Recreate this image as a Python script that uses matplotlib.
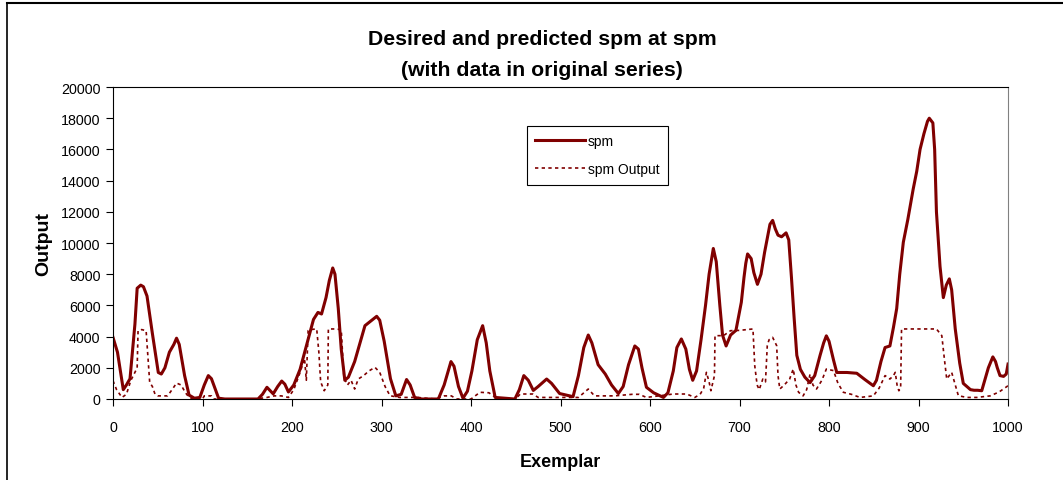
import matplotlib
matplotlib.use('Agg')
import matplotlib.pyplot as plt
from matplotlib.lines import Line2D

# desired spm, (exemplar, value)
spm_points = [
    (0, 3950), (5, 3000), (11.5, 600), (15, 900), (19, 1300), (24.5, 4800), (27, 7100),
    (31, 7300), (34, 7200), (38, 6600), (44, 4200), (50.6, 1700), (54, 1600), (58, 2000),
    (63, 3000), (68, 3500), (71, 3900), (74, 3500), (80, 1500), (85, 250), (91, 50),
    (97, 100), (102, 900), (106.5, 1500), (110, 1300), (118, 50), (125, 0), (162, 0),
    (167, 300), (172, 750), (179, 330), (184, 800), (188.5, 1150), (192, 950), (196, 450),
    (202, 900), (209, 1900), (216, 3400), (224, 5100), (229, 5550), (233, 5450),
    (238, 6500), (241.7, 7600), (245.5, 8400), (248, 8000), (251.7, 5800), (255, 3200),
    (259, 1200), (263, 1400), (270, 2400), (276, 3600), (281.5, 4700), (288, 5000),
    (294.6, 5300), (298, 5050), (303, 3700), (310, 1300), (316, 200), (322, 300),
    (328, 1250), (332, 900), (337, 100), (345, 0), (363.5, 0), (370, 900), (377.6, 2400),
    (381, 2100), (386, 800), (391, 50), (396, 500), (401, 1800), (407, 3800), (413, 4700),
    (417, 3600), (421, 1800), (427, 100), (449, 0), (454, 600), (459, 1500), (464, 1200),
    (469.6, 550), (475, 800), (484.5, 1280), (490, 1000), (499, 350), (514, 150),
    (520, 1500), (526, 3300), (531, 4100), (535, 3600), (542, 2200), (550, 1600),
    (557, 900), (564.6, 350), (570, 800), (576, 2200), (583, 3400), (587, 3200),
    (591, 2000), (596, 750), (604, 400), (615, 100), (620, 400), (626, 1800), (630, 3300),
    (635, 3850), (640, 3200), (644, 1900), (647.7, 1200), (652, 1800), (657, 3800),
    (662, 6000), (666, 8000), (670.7, 9650), (674, 8800), (678, 6000), (681, 4100),
    (685, 3400), (690, 4100), (696, 4400), (702, 6200), (705, 7800), (707, 8700),
    (709, 9300), (713, 9000), (716, 8100), (720, 7350), (724, 8000), (728, 9400),
    (734, 11200), (737, 11450), (740, 10900), (743, 10500), (747, 10400), (752, 10650),
    (755, 10200), (758, 7800), (761, 5200), (764, 2800), (768, 1900), (773, 1400),
    (778.8, 1050), (784, 1500), (790, 2800), (794, 3600), (797, 4050), (800, 3700),
    (805, 2500), (808.6, 1700), (820, 1700), (831, 1650), (840, 1250), (849.5, 850),
    (853, 1200), (858, 2400), (862.6, 3300), (868, 3400), (872, 4600), (875.6, 5800),
    (879, 8000), (883, 10050), (888, 11500), (894, 13450), (898, 14600), (901.7, 16000),
    (906, 17000), (910, 17800), (912, 18000), (916, 17700), (918, 16000), (920, 12000),
    (924, 8500), (927.7, 6500), (931, 7300), (934.4, 7700), (937, 7000), (941, 4500),
    (946, 2300), (950, 1000), (954, 800), (958, 600), (962, 560), (966, 560),
    (970.6, 530), (974, 1200), (978, 2000), (983, 2700), (986, 2400), (988, 2000),
    (991, 1500), (995, 1450), (998, 1600), (1000, 2240),
]

# predicted spm Output
output_points = [
    (0, 1170), (4, 600), (10, 100), (15, 300), (20, 1200), (22.7, 1500), (27, 2000),
    (28, 4380), (32, 4450), (37, 4380), (40, 1900), (41, 1070), (44, 800), (47, 300),
    (50, 200), (61, 200), (66, 600), (71, 1020), (76, 900), (81, 400), (85, 100), (90, 0),
    (100, 0), (102, 200), (110, 200), (112, 0), (160, 0), (172, 100), (180, 200),
    (188, 200), (196, 100), (202, 600), (209, 1700), (214, 2600), (216, 1200), (218, 4380),
    (220, 4450), (227.6, 4490), (230, 3000), (232, 1100), (236, 530), (240, 900),
    (240.6, 4490), (248, 4490), (255, 4450), (258, 1370), (262, 900), (266, 1200),
    (270, 640), (274, 1280), (280, 1500), (286, 1800), (292.7, 2030), (298, 1710),
    (304, 800), (309.5, 210), (320, 100), (340, 100), (360, 0), (370, 200), (378, 200),
    (384, 0), (400, 0), (410, 430), (420, 400), (430, 0), (450, 0), (455, 320), (469, 320),
    (475, 100), (520, 100), (531, 640), (538, 200), (560, 200), (580, 300), (588, 300),
    (596, 100), (626, 320), (641, 320), (650, 100), (656, 300), (660, 700), (663, 1710),
    (666, 1100), (668, 530), (672, 1500), (672.6, 4060), (682, 4060), (690, 4380),
    (700, 4400), (715, 4490), (717, 2140), (719, 1200), (720, 850), (722, 600),
    (726, 1280), (729, 1100), (731, 3420), (733, 3800), (737, 3950), (741.5, 3420),
    (743, 1500), (745, 640), (750, 900), (756, 1280), (760, 1920), (763, 900), (766, 430),
    (771, 200), (775, 600), (778.8, 1600), (782, 900), (786, 640), (792, 1200),
    (797, 1920), (805, 1820), (810, 1000), (816, 430), (825, 300), (834.6, 100),
    (849.5, 200), (856, 700), (862.6, 1500), (868, 1280), (872, 1500), (874, 1710),
    (876, 900), (878, 530), (880, 700), (881, 4490), (900, 4490), (920, 4490), (926, 4060),
    (929, 2500), (931.5, 1280), (937, 1710), (940, 1100), (944.5, 210), (954, 100),
    (965, 100), (980, 200), (990, 450), (1000, 850),
]

spm_x, spm_y = zip(*spm_points)
out_x, out_y = zip(*output_points)

x_ticks = list(range(0, 1001, 100))
y_ticks = list(range(0, 20001, 2000))

plt.rcParams['font.family'] = ['Liberation Sans', 'DejaVu Sans']
red = '#800000'

fig = plt.figure(figsize=(10.63, 4.81), dpi=100)
ax = fig.add_axes([0.1063, 0.1684, 0.8420, 0.6486])

ax.plot(spm_x, spm_y, color=red, lw=2.2, solid_joinstyle='round', label='spm')
ax.plot(out_x, out_y, color=red, lw=1.2, ls=(0, (2, 2)), label='spm Output')

ax.set_xlim(0, 1000)
ax.set_ylim(0, 20000)
ax.set_xticks(x_ticks)
ax.set_yticks(y_ticks)
ax.tick_params(direction='out', length=5, width=0.8, labelsize=10.3)
ax.tick_params(axis='x', pad=10)
ax.tick_params(axis='y', pad=4)
ax.spines['right'].set_color('#808080')

ax.set_xlabel('Exemplar', fontsize=13, fontweight='bold', labelpad=14)
ax.set_ylabel('Output', fontsize=14, fontweight='bold', labelpad=6)

fig.text(0.510, 0.917, 'Desired and predicted spm at spm', ha='center', va='center',
         fontsize=15.3, fontweight='bold')
fig.text(0.510, 0.853, '(with data in original series)', ha='center', va='center',
         fontsize=15.3, fontweight='bold')

handles = [Line2D([], [], color=red, lw=2.2),
           Line2D([], [], color=red, lw=1.2, ls=(0, (2, 2)))]
leg = ax.legend(handles, ['spm', 'spm Output'], loc='upper left',
                bbox_to_anchor=(0.4626, 0.875), borderaxespad=0, fontsize=10,
                fancybox=False, framealpha=1, edgecolor='black', handlelength=3.6,
                handletextpad=0.2, borderpad=0.6, labelspacing=1.0)
leg.get_frame().set_linewidth(0.8)

# outer chart frame (left and top edges)
fig.add_artist(Line2D([7 / 1063, 7 / 1063], [0, 1 - 4 / 481], color='black', lw=1.2,
                      transform=fig.transFigure))
fig.add_artist(Line2D([7 / 1063, 1], [1 - 4 / 481, 1 - 4 / 481], color='black', lw=1.5,
                      transform=fig.transFigure))

fig.savefig('out.png', dpi=100)
